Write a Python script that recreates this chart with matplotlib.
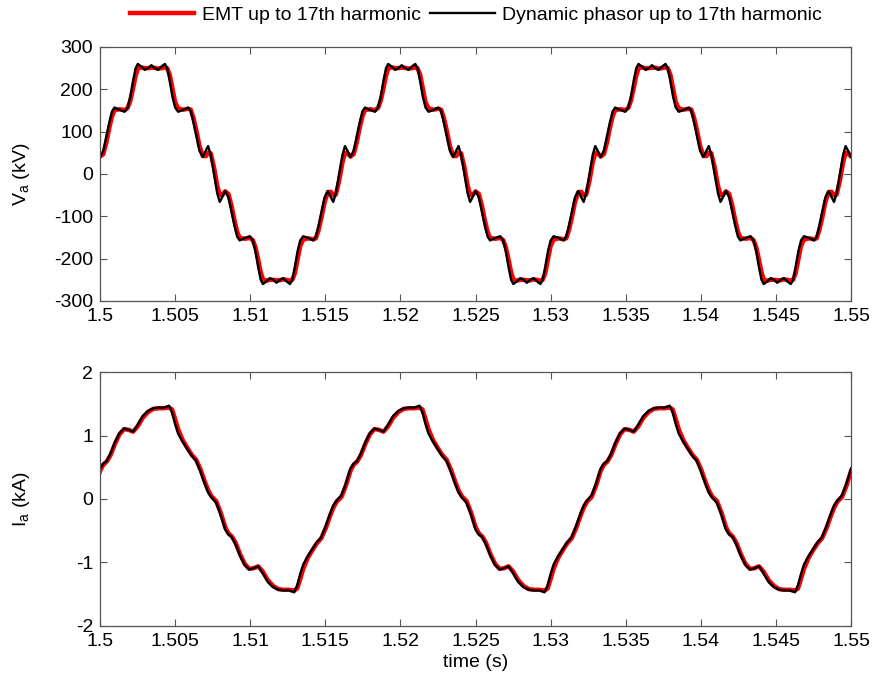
import numpy as np
import matplotlib
matplotlib.use('Agg')
import matplotlib.pyplot as plt
from matplotlib import font_manager

# ---------------- data ----------------
# voltage samples: time in ms after 1.5 s
t_v_ms = [
    -0.36, -0.20, 0.00, 0.22, 0.42, 0.62, 0.80, 0.97, 1.32, 1.64, 1.84, 2.02, 2.20, 2.37, 2.52, 2.74, 2.98, 3.20, 3.42, 3.64,
    3.86, 4.10, 4.32, 4.47, 4.64, 4.82, 5.00, 5.20, 5.52, 5.87, 6.04, 6.22, 6.42, 6.62, 6.84, 7.04, 7.20, 7.37, 7.59,
    7.80, 7.97, 8.13, 8.33, 8.55, 8.75, 8.95, 9.13, 9.30, 9.65, 9.97, 10.17, 10.35, 10.53, 10.70, 10.85, 11.07, 11.31, 11.53, 11.75,
    11.97, 12.19, 12.43, 12.65, 12.80, 12.97, 13.15, 13.33, 13.53, 13.85, 14.20, 14.37, 14.55, 14.75, 14.95, 15.17, 15.37, 15.53, 15.70, 15.92,
    16.14, 16.31, 16.47, 16.67, 16.89, 17.09, 17.29, 17.47, 17.64, 17.99, 18.31, 18.51, 18.69, 18.87, 19.04, 19.19, 19.41, 19.65, 19.87, 20.09,
    20.31, 20.53, 20.77, 20.99, 21.14, 21.31, 21.49, 21.67, 21.87, 22.19, 22.54, 22.71, 22.89, 23.09, 23.29, 23.51, 23.71, 23.87, 24.04, 24.26,
    24.47, 24.64, 24.80, 25.00, 25.22, 25.42, 25.62, 25.80, 25.97, 26.32, 26.64, 26.84, 27.02, 27.20, 27.37, 27.52, 27.74, 27.98, 28.20, 28.42,
    28.64, 28.86, 29.10, 29.32, 29.47, 29.64, 29.82, 30.00, 30.20, 30.52, 30.87, 31.04, 31.22, 31.42, 31.62, 31.84, 32.04, 32.20, 32.37, 32.59,
    32.80, 32.97, 33.13, 33.33, 33.55, 33.75, 33.95, 34.13, 34.30, 34.65, 34.97, 35.17, 35.35, 35.53, 35.70, 35.85, 36.07, 36.31, 36.53, 36.75,
    36.97, 37.19, 37.43, 37.65, 37.80, 37.97, 38.15, 38.33, 38.53, 38.85, 39.20, 39.37, 39.55, 39.75, 39.95, 40.17, 40.37, 40.53, 40.70, 40.92,
    41.14, 41.31, 41.47, 41.67, 41.89, 42.09, 42.29, 42.47, 42.64, 42.99, 43.31, 43.51, 43.69, 43.87, 44.04, 44.19, 44.41, 44.65, 44.87, 45.09,
    45.31, 45.53, 45.77, 45.99, 46.14, 46.31, 46.49, 46.67, 46.87, 47.19, 47.54, 47.71, 47.89, 48.09, 48.29, 48.51, 48.71, 48.87, 49.04, 49.26,
    49.47, 49.64, 49.80, 50.00, 50.22,
]
# dynamic phasor voltage (kV)
v_dp = [
    66, 55, 40, 55, 89, 122, 148, 157, 151, 147, 157, 183, 220, 250, 260, 254, 246, 250, 257, 250,
    246, 254, 260, 250, 220, 183, 157, 147, 151, 157, 148, 122, 89, 55, 40, 55, 66, 45, 0,
    -45, -66, -55, -40, -55, -89, -122, -148, -157, -151, -147, -157, -183, -220, -250, -260, -254, -246, -250, -257,
    -250, -246, -254, -260, -250, -220, -183, -157, -147, -151, -157, -148, -122, -89, -55, -40, -55, -66, -45, 0,
    45, 66, 55, 40, 55, 89, 122, 148, 157, 151, 147, 157, 183, 220, 250, 260, 254, 246, 250, 257,
    250, 246, 254, 260, 250, 220, 183, 157, 147, 151, 157, 148, 122, 89, 55, 40, 55, 66, 45, 0,
    -45, -66, -55, -40, -55, -89, -122, -148, -157, -151, -147, -157, -183, -220, -250, -260, -254, -246, -250, -257,
    -250, -246, -254, -260, -250, -220, -183, -157, -147, -151, -157, -148, -122, -89, -55, -40, -55, -66, -45, 0,
    45, 66, 55, 40, 55, 89, 122, 148, 157, 151, 147, 157, 183, 220, 250, 260, 254, 246, 250, 257,
    250, 246, 254, 260, 250, 220, 183, 157, 147, 151, 157, 148, 122, 89, 55, 40, 55, 66, 45, 0,
    -45, -66, -55, -40, -55, -89, -122, -148, -157, -151, -147, -157, -183, -220, -250, -260, -254, -246, -250, -257,
    -250, -246, -254, -260, -250, -220, -183, -157, -147, -151, -157, -148, -122, -89, -55, -40, -55, -66, -45, 0,
    45, 66, 55, 40, 55,
]
# EMT voltage (kV)
v_emt = [
    49, 50, 41, 47, 74, 109, 136, 151, 153, 151, 156, 173, 202, 232, 249, 252, 250, 250, 251, 251,
    249, 250, 252, 250, 235, 202, 170, 155, 152, 154, 152, 133, 102, 67, 43, 42, 50, 49, 16,
    -27, -49, -50, -41, -47, -74, -109, -136, -151, -153, -151, -156, -173, -202, -232, -249, -252, -250, -250, -251,
    -251, -249, -250, -252, -250, -235, -202, -170, -155, -152, -154, -152, -133, -102, -67, -43, -42, -50, -49, -16,
    27, 49, 50, 41, 47, 74, 109, 136, 151, 153, 151, 156, 173, 202, 232, 249, 252, 250, 250, 251,
    251, 249, 250, 252, 250, 235, 202, 170, 155, 152, 154, 152, 133, 102, 67, 43, 42, 50, 49, 16,
    -27, -49, -50, -41, -47, -74, -109, -136, -151, -153, -151, -156, -173, -202, -232, -249, -252, -250, -250, -251,
    -251, -249, -250, -252, -250, -235, -202, -170, -155, -152, -154, -152, -133, -102, -67, -43, -42, -50, -49, -16,
    27, 49, 50, 41, 47, 74, 109, 136, 151, 153, 151, 156, 173, 202, 232, 249, 252, 250, 250, 251,
    251, 249, 250, 252, 250, 235, 202, 170, 155, 152, 154, 152, 133, 102, 67, 43, 42, 50, 49, 16,
    -27, -49, -50, -41, -47, -74, -109, -136, -151, -153, -151, -156, -173, -202, -232, -249, -252, -250, -250, -251,
    -251, -249, -250, -252, -250, -235, -202, -170, -155, -152, -154, -152, -133, -102, -67, -43, -42, -50, -49, -16,
    27, 49, 50, 41, 47,
]

# current samples: time in ms after 1.5 s
t_i_ms = [
    -0.60, -0.30, 0.00, 0.22, 0.45, 0.70, 1.00, 1.30, 1.60, 1.90, 2.20, 2.50, 2.85, 3.20, 3.55, 3.90, 4.25, 4.60, 4.80, 5.00,
    5.20, 5.50, 5.80, 6.10, 6.40, 6.70, 7.00, 7.20, 7.43,
    7.73, 8.03, 8.33, 8.55, 8.78, 9.03, 9.33, 9.63, 9.93, 10.23, 10.53, 10.83, 11.18, 11.53, 11.88, 12.23, 12.58, 12.93, 13.13, 13.33,
    13.53, 13.83, 14.13, 14.43, 14.73, 15.03, 15.33, 15.53, 15.76,
    16.07, 16.37, 16.67, 16.89, 17.12, 17.37, 17.67, 17.97, 18.27, 18.57, 18.87, 19.17, 19.52, 19.87, 20.22, 20.57, 20.92, 21.27, 21.47, 21.67,
    21.87, 22.17, 22.47, 22.77, 23.07, 23.37, 23.67, 23.87, 24.10,
    24.40, 24.70, 25.00, 25.22, 25.45, 25.70, 26.00, 26.30, 26.60, 26.90, 27.20, 27.50, 27.85, 28.20, 28.55, 28.90, 29.25, 29.60, 29.80, 30.00,
    30.20, 30.50, 30.80, 31.10, 31.40, 31.70, 32.00, 32.20, 32.43,
    32.73, 33.03, 33.33, 33.55, 33.78, 34.03, 34.33, 34.63, 34.93, 35.23, 35.53, 35.83, 36.18, 36.53, 36.88, 37.23, 37.58, 37.93, 38.13, 38.33,
    38.53, 38.83, 39.13, 39.43, 39.73, 40.03, 40.33, 40.53, 40.76,
    41.07, 41.37, 41.67, 41.89, 42.12, 42.37, 42.67, 42.97, 43.27, 43.57, 43.87, 44.17, 44.52, 44.87, 45.22, 45.57, 45.92, 46.27, 46.47, 46.67,
    46.87, 47.17, 47.47, 47.77, 48.07, 48.37, 48.67, 48.87, 49.10,
    49.40, 49.70, 50.00, 50.22,
]
# dynamic phasor current (kA)
i_dp = [
    0.06, 0.25, 0.48, 0.56, 0.60, 0.72, 0.90, 1.04, 1.11, 1.09, 1.06, 1.17, 1.31, 1.39, 1.43, 1.44, 1.44, 1.47, 1.36, 1.18,
    1.03, 0.90, 0.79, 0.68, 0.60, 0.42, 0.22, 0.10, 0.02,
    -0.06, -0.25, -0.48, -0.56, -0.60, -0.72, -0.90, -1.04, -1.11, -1.09, -1.06, -1.17, -1.31, -1.39, -1.43, -1.44, -1.44, -1.47, -1.36, -1.18,
    -1.03, -0.90, -0.79, -0.68, -0.60, -0.42, -0.22, -0.10, -0.02,
    0.06, 0.25, 0.48, 0.56, 0.60, 0.72, 0.90, 1.04, 1.11, 1.09, 1.06, 1.17, 1.31, 1.39, 1.43, 1.44, 1.44, 1.47, 1.36, 1.18,
    1.03, 0.90, 0.79, 0.68, 0.60, 0.42, 0.22, 0.10, 0.02,
    -0.06, -0.25, -0.48, -0.56, -0.60, -0.72, -0.90, -1.04, -1.11, -1.09, -1.06, -1.17, -1.31, -1.39, -1.43, -1.44, -1.44, -1.47, -1.36, -1.18,
    -1.03, -0.90, -0.79, -0.68, -0.60, -0.42, -0.22, -0.10, -0.02,
    0.06, 0.25, 0.48, 0.56, 0.60, 0.72, 0.90, 1.04, 1.11, 1.09, 1.06, 1.17, 1.31, 1.39, 1.43, 1.44, 1.44, 1.47, 1.36, 1.18,
    1.03, 0.90, 0.79, 0.68, 0.60, 0.42, 0.22, 0.10, 0.02,
    -0.06, -0.25, -0.48, -0.56, -0.60, -0.72, -0.90, -1.04, -1.11, -1.09, -1.06, -1.17, -1.31, -1.39, -1.43, -1.44, -1.44, -1.47, -1.36, -1.18,
    -1.03, -0.90, -0.79, -0.68, -0.60, -0.42, -0.22, -0.10, -0.02,
    0.06, 0.25, 0.48, 0.56,
]
# EMT current (kA)
i_emt = [
    0.03, 0.21, 0.44, 0.54, 0.59, 0.69, 0.87, 1.02, 1.10, 1.09, 1.06, 1.14, 1.28, 1.37, 1.42, 1.43, 1.43, 1.44, 1.41, 1.26,
    1.10, 0.93, 0.81, 0.70, 0.62, 0.46, 0.26, 0.14, 0.04,
    -0.03, -0.21, -0.44, -0.54, -0.59, -0.69, -0.87, -1.02, -1.10, -1.09, -1.06, -1.14, -1.28, -1.37, -1.42, -1.43, -1.43, -1.44, -1.41, -1.26,
    -1.10, -0.93, -0.81, -0.70, -0.62, -0.46, -0.26, -0.14, -0.04,
    0.03, 0.21, 0.44, 0.54, 0.59, 0.69, 0.87, 1.02, 1.10, 1.09, 1.06, 1.14, 1.28, 1.37, 1.42, 1.43, 1.43, 1.44, 1.41, 1.26,
    1.10, 0.93, 0.81, 0.70, 0.62, 0.46, 0.26, 0.14, 0.04,
    -0.03, -0.21, -0.44, -0.54, -0.59, -0.69, -0.87, -1.02, -1.10, -1.09, -1.06, -1.14, -1.28, -1.37, -1.42, -1.43, -1.43, -1.44, -1.41, -1.26,
    -1.10, -0.93, -0.81, -0.70, -0.62, -0.46, -0.26, -0.14, -0.04,
    0.03, 0.21, 0.44, 0.54, 0.59, 0.69, 0.87, 1.02, 1.10, 1.09, 1.06, 1.14, 1.28, 1.37, 1.42, 1.43, 1.43, 1.44, 1.41, 1.26,
    1.10, 0.93, 0.81, 0.70, 0.62, 0.46, 0.26, 0.14, 0.04,
    -0.03, -0.21, -0.44, -0.54, -0.59, -0.69, -0.87, -1.02, -1.10, -1.09, -1.06, -1.14, -1.28, -1.37, -1.42, -1.43, -1.43, -1.44, -1.41, -1.26,
    -1.10, -0.93, -0.81, -0.70, -0.62, -0.46, -0.26, -0.14, -0.04,
    0.03, 0.21, 0.44, 0.54,
]

x_ticks = [1.5, 1.505, 1.51, 1.515, 1.52, 1.525, 1.53, 1.535, 1.54, 1.545, 1.55]
x_tick_labels = ['1.5', '1.505', '1.51', '1.515', '1.52', '1.525', '1.53', '1.535', '1.54', '1.545', '1.55']
v_ticks = [-300, -200, -100, 0, 100, 200, 300]
v_tick_labels = ['-300', '-200', '-100', '0', '100', '200', '300']
i_ticks = [-2, -1, 0, 1, 2]
i_tick_labels = ['-2', '-1', '0', '1', '2']
legend_labels = ['EMT up to 17th harmonic', 'Dynamic phasor up to 17th harmonic']

# ---------------- drawing ----------------
names = {f.name for f in font_manager.fontManager.ttflist}
fam = [f for f in ['Liberation Sans Narrow', 'Liberation Sans', 'DejaVu Sans'] if f in names]
plt.rcParams['font.family'] = fam
plt.rcParams['mathtext.fontset'] = 'custom'
plt.rcParams['mathtext.rm'] = fam[0]
plt.rcParams['axes.unicode_minus'] = False
FS = 14

tv = 1.5 + np.array(t_v_ms) / 1000.0
ti = 1.5 + np.array(t_i_ms) / 1000.0

fig = plt.figure(figsize=(8.75, 6.83), dpi=100)
ax1 = fig.add_axes([0.1143, 0.5593, 0.8583, 0.3719])
ax2 = fig.add_axes([0.1143, 0.0835, 0.8583, 0.3718])

edge = '#555555'
for ax in (ax1, ax2):
    for s in ax.spines.values():
        s.set_color(edge)
        s.set_linewidth(0.9)
    ax.tick_params(direction='in', top=True, right=True, length=5, width=0.8,
                   color=edge, labelsize=FS, pad=5)
    ax.set_xlim(1.5, 1.55)
    ax.set_xticks(x_ticks)
    ax.set_xticklabels(x_tick_labels)

l1, = ax1.plot(tv, v_emt, color='#ff0000', lw=3.2, solid_joinstyle='round')
l2, = ax1.plot(tv, v_dp, color='black', lw=1.7, solid_joinstyle='round')
ax1.set_ylim(-300, 300)
ax1.set_yticks(v_ticks)
ax1.set_yticklabels(v_tick_labels)
ax1.set_ylabel(r'V$_\mathregular{a}$ (kV)', fontsize=FS)
ax1.yaxis.set_label_coords(-0.09, 0.5)

ax2.plot(ti, i_emt, color='#ff0000', lw=3.2, solid_joinstyle='round')
ax2.plot(ti, i_dp, color='black', lw=1.7, solid_joinstyle='round')
ax2.set_ylim(-2, 2)
ax2.set_yticks(i_ticks)
ax2.set_yticklabels(i_tick_labels)
ax2.set_ylabel(r'I$_\mathregular{a}$ (kA)', fontsize=FS)
ax2.yaxis.set_label_coords(-0.09, 0.5)
ax2.set_xlabel('time (s)', fontsize=FS, labelpad=3)

fig.legend([l1, l2], legend_labels, loc='center', bbox_to_anchor=(476 / 875, 1 - 15 / 683),
           ncol=2, frameon=False, fontsize=FS, handlelength=3.3, columnspacing=0.5,
           handletextpad=0.4, borderaxespad=0)

fig.savefig('out.png', dpi=100)
